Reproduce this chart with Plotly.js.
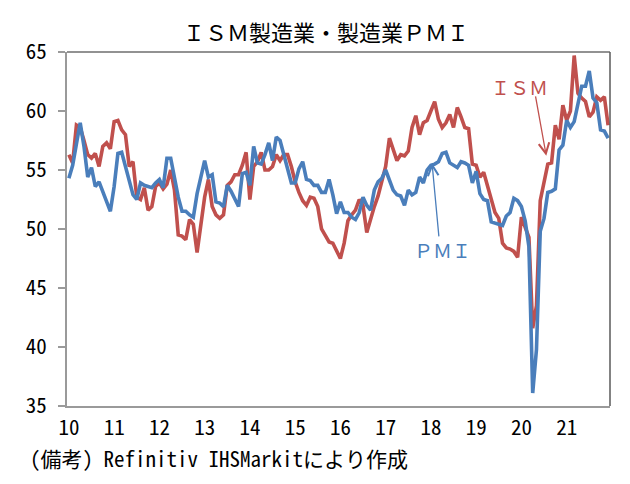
<!DOCTYPE html>
<html>
<head>
<meta charset="utf-8">
<script src="https://cdn.plot.ly/plotly-3.0.1.min.js"></script>
<style>
  html, body { margin: 0; padding: 0; background: #ffffff; }
  #chart { width: 630px; height: 484px; }
</style>
</head>
<body>
<div id="chart"></div>
<script>
// Year labels on the horizontal axis (one tick per January, 2010-2021)
const yearLabels = ['10', '11', '12', '13', '14', '15', '16', '17', '18', '19', '20', '21'];

// ISM manufacturing PMI, monthly, Jan 2010 - Dec 2021
const ism = [
  56.3, 55.6, 58.8, 58.6, 57.5, 56.3, 56.0, 56.4, 55.3, 57.0, 57.3, 56.8, // 2010
  59.1, 59.2, 58.4, 58.0, 55.3, 55.7, 52.7, 52.5, 53.5, 51.6, 51.9, 53.6, // 2011
  53.9, 53.4, 53.8, 55.0, 53.3, 49.5, 49.4, 49.1, 50.8, 50.4, 48.0, 50.2, // 2012
  52.7, 54.2, 51.9, 51.2, 50.9, 51.2, 53.7, 54.0, 54.6, 54.6, 55.4, 56.5, // 2013
  52.5, 55.3, 55.7, 56.5, 55.0, 55.0, 55.3, 56.3, 55.8, 56.3, 56.3, 55.3, // 2014
  54.0, 53.1, 52.4, 52.0, 52.7, 52.6, 51.9, 50.0, 49.4, 48.9, 48.8, 48.2, // 2015
  47.5, 48.8, 50.7, 51.2, 51.6, 52.5, 52.0, 49.7, 50.9, 51.9, 52.8, 54.2, // 2016
  55.3, 57.7, 56.8, 55.8, 56.3, 56.2, 56.6, 58.6, 59.6, 58.0, 59.0, 59.2, // 2017
  60.0, 60.8, 59.3, 58.6, 59.0, 59.7, 58.6, 60.3, 59.5, 58.6, 58.5, 55.5, // 2018
  55.4, 54.4, 54.8, 53.6, 52.6, 51.4, 50.9, 48.8, 48.4, 48.3, 48.1, 47.6, // 2019
  51.0, 50.1, 49.3, 41.6, 43.5, 52.4, 53.8, 55.5, 55.6, 58.8, 57.6, 60.5, // 2020
  59.2, 60.0, 64.7, 61.5, 61.1, 60.8, 59.5, 59.9, 61.2, 60.9, 61.2, 58.8  // 2021
];

// IHS Markit US manufacturing PMI, monthly, Jan 2010 - Dec 2021
const pmi = [
  54.3, 55.4, 57.2, 59.0, 57.0, 54.4, 55.2, 53.6, 54.0, 53.2, 52.3, 51.5, // 2010
  53.6, 56.4, 56.5, 55.2, 54.0, 52.9, 52.5, 53.9, 53.7, 53.6, 53.5, 53.9, // 2011
  54.2, 53.5, 56.0, 56.0, 54.4, 52.7, 51.5, 51.5, 51.2, 51.0, 53.0, 54.3, // 2012
  55.8, 54.4, 54.6, 52.3, 52.2, 51.9, 53.7, 53.2, 52.6, 51.9, 54.7, 54.8, // 2013
  53.7, 57.0, 55.6, 55.5, 56.3, 57.3, 55.8, 57.8, 57.5, 56.2, 55.0, 53.9, // 2014
  53.9, 55.1, 55.7, 54.2, 54.1, 53.7, 53.7, 53.1, 53.1, 54.2, 52.9, 51.3, // 2015
  52.3, 51.4, 51.4, 51.0, 50.8, 51.4, 52.7, 52.0, 51.6, 53.3, 54.0, 54.3, // 2016
  55.0, 54.2, 53.3, 52.9, 52.8, 52.0, 53.3, 52.9, 53.1, 54.4, 53.9, 55.0, // 2017
  55.4, 55.5, 55.7, 56.4, 56.5, 55.6, 55.4, 55.2, 55.7, 55.6, 55.4, 53.9, // 2018
  54.9, 53.0, 52.5, 52.4, 50.6, 50.5, 50.4, 50.3, 51.1, 51.4, 52.6, 52.4, // 2019
  51.9, 50.7, 48.5, 36.1, 39.8, 49.8, 50.9, 53.1, 53.2, 53.4, 56.7, 57.1, // 2020
  59.2, 58.6, 59.1, 60.5, 62.1, 62.1, 63.4, 61.1, 60.7, 58.4, 58.3, 57.7  // 2021
];

// month index along the axis (0 = Jan 2010)
const monthIdx = ism.map((_, i) => i);
const yearTicks = yearLabels.map((_, i) => i * 12);

const RED = '#C0504D';
const BLUE = '#4A7EBB';
const AXIS_GREY = '#9a9a9a';
const MONO = '"Noto Sans Mono CJK JP", "Noto Sans CJK JP", monospace';
const CJK = '"Noto Sans CJK JP", sans-serif';

const traces = [
  {
    x: monthIdx, y: ism, name: 'ISM', type: 'scatter', mode: 'lines',
    line: { color: RED, width: 3.6 }, hoverinfo: 'skip'
  },
  {
    x: monthIdx, y: pmi, name: 'PMI', type: 'scatter', mode: 'lines',
    line: { color: BLUE, width: 3.6 }, hoverinfo: 'skip'
  }
];

const layout = {
  width: 630, height: 484, autosize: false,
  margin: { l: 67, r: 20, t: 52, b: 78, pad: 0 },
  paper_bgcolor: '#ffffff', plot_bgcolor: '#ffffff',
  showlegend: false,
  title: {
    text: 'ＩＳＭ製造業・製造業ＰＭＩ',
    font: { family: CJK, size: 22, color: '#000000' },
    xref: 'paper', x: 0.477, xanchor: 'center',
    yref: 'container', y: 1 - 33 / 484, yanchor: 'middle'
  },
  xaxis: {
    range: [-0.5, 143.5], tickmode: 'array', tickvals: yearTicks, ticktext: yearLabels,
    ticks: '', showgrid: false, zeroline: false,
    showline: true, linecolor: AXIS_GREY, linewidth: 2,
    tickfont: { family: MONO, size: 21, color: '#000000' },
    ticklabelstandoff: 2,
    fixedrange: true
  },
  yaxis: {
    range: [35, 65], tickmode: 'linear', tick0: 35, dtick: 5,
    ticks: 'outside', ticklen: 7, tickwidth: 2, tickcolor: AXIS_GREY,
    showgrid: false, zeroline: false,
    showline: true, linecolor: AXIS_GREY, linewidth: 2,
    tickfont: { family: MONO, size: 21, color: '#000000' },
    ticklabelstandoff: 7,
    fixedrange: true
  },
  shapes: [
    // darker frame on the top and right edges of the plot area
    { type: 'line', xref: 'paper', yref: 'paper', x0: 0, x1: 1, y0: 1, y1: 1,
      line: { color: '#6e6e6e', width: 1.5 } },
    { type: 'line', xref: 'paper', yref: 'paper', x0: 1, x1: 1, y0: 0, y1: 1,
      line: { color: '#5a5a5a', width: 1.5 } }
  ],
  annotations: [
    // series labels
    { xref: 'x', yref: 'y', x: 119.4, y: 62.1, text: 'ＩＳＭ', showarrow: false,
      font: { family: CJK, size: 19, color: RED } },
    { xref: 'x', yref: 'y', x: 99.2, y: 48.3, text: 'ＰＭＩ', showarrow: false,
      font: { family: CJK, size: 19, color: BLUE } },
    // pointer arrows from the labels to their lines
    { xref: 'x', yref: 'y', x: 126.6, y: 56.2, text: '', showarrow: true,
      ax: -11, ay: -61, arrowhead: 5, arrowsize: 1.6, arrowwidth: 1.3, arrowcolor: RED },
    { xref: 'x', yref: 'y', x: 96.3, y: 55.6, text: '', showarrow: true,
      ax: 7, ay: 75, arrowhead: 5, arrowsize: 1.6, arrowwidth: 1.3, arrowcolor: BLUE },
    // source note
    { xref: 'paper', yref: 'paper', x: (28 - 67) / 543, y: (406 - 458) / 354,
      xanchor: 'left', yanchor: 'middle', showarrow: false,
      text: '(備考) Refinitiv IHSMarkitにより作成',
      font: { family: MONO, size: 21, color: '#000000' } }
  ]
};

Plotly.newPlot('chart', traces, layout, { staticPlot: true, displayModeBar: false });
</script>
</body>
</html>
